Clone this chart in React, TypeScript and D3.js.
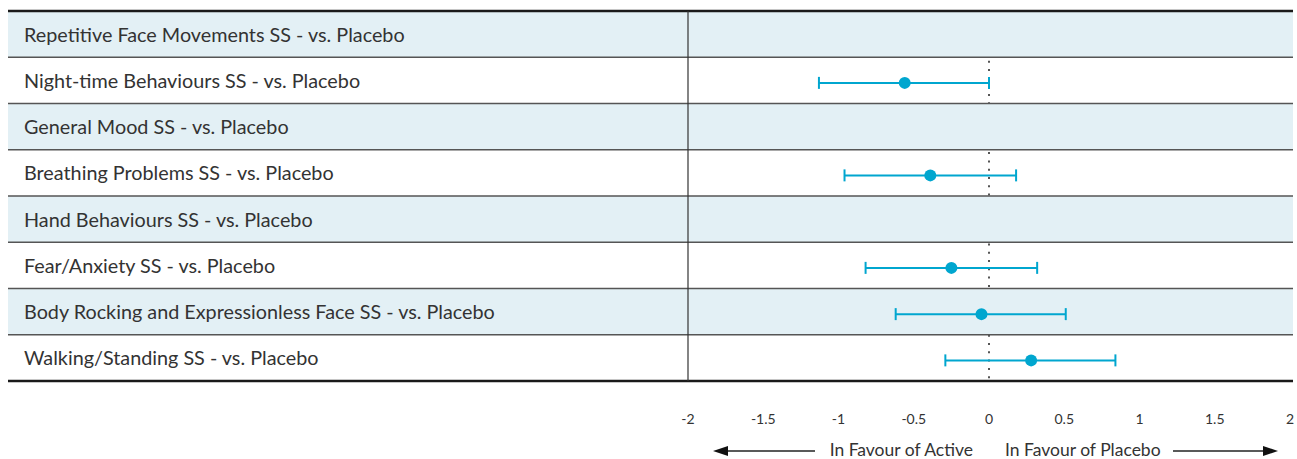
import React from 'react';
import * as d3 from 'd3';

const categories = [
  'Repetitive Face Movements SS - vs. Placebo',
  'Night-time Behaviours SS - vs. Placebo',
  'General Mood SS - vs. Placebo',
  'Breathing Problems SS - vs. Placebo',
  'Hand Behaviours SS - vs. Placebo',
  'Fear/Anxiety SS - vs. Placebo',
  'Body Rocking and Expressionless Face SS - vs. Placebo',
  'Walking/Standing SS - vs. Placebo',
];
const estimates: (number | null)[] = [null, -0.56, null, -0.39, null, -0.25, -0.05, 0.28];
const lowerCI: (number | null)[] = [null, -1.13, null, -0.96, null, -0.82, -0.62, -0.29];
const upperCI: (number | null)[] = [null, 0.0, null, 0.18, null, 0.32, 0.51, 0.84];
const xTicks = [-2, -1.5, -1, -0.5, 0, 0.5, 1, 1.5, 2];

const W = 1297;
const H = 459;
const tableLeft = 8;
const tableRight = 1293;
const divider = 688;
const top = 11;
const bottom = 381;
const blue = '#00a6cf';
const font = 'Lato, "Noto Sans", sans-serif';

export default function App() {
  const x = d3.scaleLinear().domain([-2, 2]).range([divider, 1290]);
  const y = d3.scaleBand<number>().domain(d3.range(categories.length)).range([top, bottom]);
  const bh = y.bandwidth();

  return (
    <svg width={W} height={H} style={{ position: 'absolute', left: 0, top: 0 }} fontFamily={font}>
      {/* reference line behind the shaded rows */}
      <line x1={x(0)} x2={x(0)} y1={top} y2={bottom} stroke="#555" strokeWidth={2} strokeDasharray="2 6.3" />

      {categories.map((c, i) => (
        <g key={c}>
          {i % 2 === 0 && (
            <rect x={tableLeft} y={y(i)} width={tableRight - tableLeft} height={bh} fill="#e3f0f5" />
          )}
          <text x={24} y={(y(i) as number) + bh / 2 + 7.5} fontSize={19.8} fill="#333">
            {c}
          </text>
        </g>
      ))}

      {/* row separators */}
      {d3.range(1, categories.length).map((i) => (
        <line key={i} x1={tableLeft} x2={tableRight} y1={y(i)} y2={y(i)} stroke="#555" strokeWidth={1.6} />
      ))}
      <line x1={tableLeft} x2={tableRight} y1={top} y2={top} stroke="#1a1a1a" strokeWidth={2.5} />
      <line x1={tableLeft} x2={tableRight} y1={bottom} y2={bottom} stroke="#1a1a1a" strokeWidth={2.5} />
      <line x1={divider} x2={divider} y1={top} y2={bottom} stroke="#333" strokeWidth={1.2} />

      {/* confidence intervals */}
      {categories.map((c, i) => {
        const est = estimates[i];
        const lo = lowerCI[i];
        const hi = upperCI[i];
        if (est == null || lo == null || hi == null) return null;
        const cy = (y(i) as number) + bh / 2 + 2.5;
        return (
          <g key={'ci' + i}>
            <line x1={x(lo)} x2={x(hi)} y1={cy} y2={cy} stroke={blue} strokeWidth={2} />
            <line x1={x(lo)} x2={x(lo)} y1={cy - 6} y2={cy + 6} stroke={blue} strokeWidth={2} />
            <line x1={x(hi)} x2={x(hi)} y1={cy - 6} y2={cy + 6} stroke={blue} strokeWidth={2} />
            <circle cx={x(est)} cy={cy} r={6} fill={blue} />
          </g>
        );
      })}

      {/* axis labels */}
      {xTicks.map((t) => (
        <text key={t} x={x(t)} y={424} textAnchor="middle" fontSize={14} fill="#333">
          {t}
        </text>
      ))}

      {/* direction arrows */}
      <line x1={725} x2={815} y1={451} y2={451} stroke="#222" strokeWidth={1.3} />
      <path d="M713,451 L728,446 L728,456 Z" fill="#111" />
      <text x={973} y={455.5} textAnchor="end" fontSize={17.5} fill="#333">
        In Favour of Active
      </text>
      <text x={1005} y={455.5} textAnchor="start" fontSize={17.5} fill="#333">
        In Favour of Placebo
      </text>
      <line x1={1173} x2={1265} y1={451} y2={451} stroke="#222" strokeWidth={1.3} />
      <path d="M1278,451 L1263,446 L1263,456 Z" fill="#111" />
    </svg>
  );
}
